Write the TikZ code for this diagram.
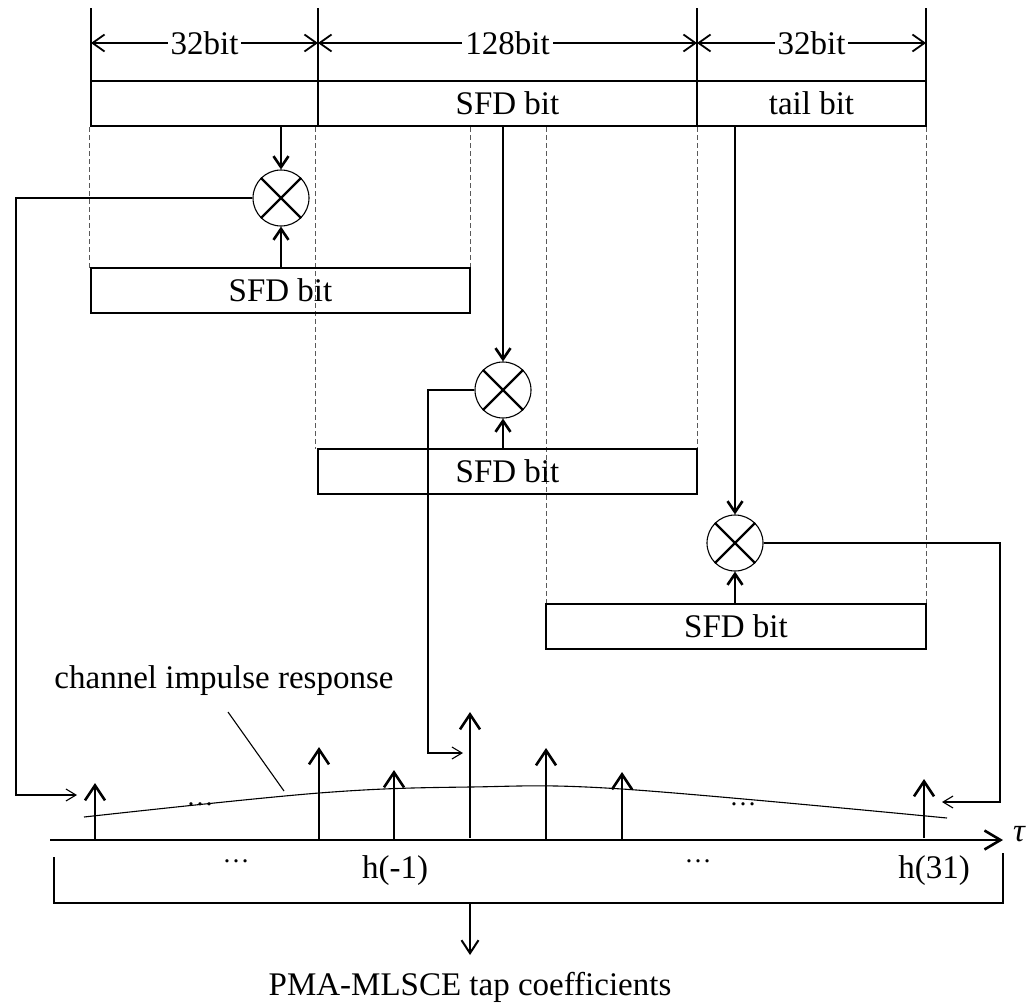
\documentclass[tikz,border=0pt]{standalone}
\usepackage{fontspec}
\setmainfont{Liberation Serif}
\usetikzlibrary{arrows.meta}
\begin{document}
\begin{tikzpicture}[x=1pt,y=-1pt,
  txt/.style={font=\fontsize{33}{38}\selectfont, inner sep=0pt},
  dotsst/.style={font=\fontsize{27}{30}\selectfont, inner sep=0pt, anchor=base},
  bitbox/.style={draw, line width=2.6pt, minimum height=45pt, inner sep=0pt, font=\fontsize{33}{38}\selectfont},
  mult/.style={draw, circle, line width=1.1pt, minimum size=56pt, inner sep=0pt},
  crossline/.style={line width=2.4pt},
  thickline/.style={line width=2.6pt},
  thinline/.style={line width=1.1pt},
  dashline/.style={line width=1pt, gray!70!black, dash pattern=on 5pt off 3pt},
  dimarrow/.style={line width=1.8pt, {Straight Barb[length=12pt,width=17pt]}-{Straight Barb[length=12pt,width=17pt]}},
  stemarrow/.style={line width=2.6pt, -{Straight Barb[length=11pt,width=15pt]}},
  taparrow/.style={line width=2.6pt, -{Straight Barb[length=15pt,width=20pt]}},
  axisarrow/.style={line width=2.6pt, -{Straight Barb[length=16pt,width=19pt]}},
  conn/.style={line width=1.1pt, -{Straight Barb[length=10pt,width=12pt]}},
  downarrow/.style={line width=2pt, -{Straight Barb[length=13pt,width=17pt]}}
]
\useasboundingbox (0,0) rectangle (1032,1004);

% top dimension ticks
\draw[thickline] (91,8) -- (91,81);
\draw[thickline] (318,8) -- (318,81);
\draw[thickline] (697,8) -- (697,81);
\draw[thickline] (926,8) -- (926,81);
\draw[dimarrow] (91,43) -- (318,43) node[midway, txt, fill=white, inner xsep=3pt] (d1) {32bit};
\draw[dimarrow] (318,43) -- (697,43) node[midway, txt, fill=white, inner xsep=3pt] (d2) {128bit};
\draw[dimarrow] (697,43) -- (926,43) node[midway, txt, fill=white, inner xsep=3pt] (d3) {32bit};

% top bar
\node[bitbox, minimum width=227pt] (bA) at (204.5,103.5) {};
\node[bitbox, minimum width=379pt] (bB) at (507.5,103.5) {SFD bit};
\node[bitbox, minimum width=229pt] (bC) at (811.5,103.5) {tail bit};

% dashed guides
\draw[dashline] (89,127) -- (89,268);
\draw[dashline] (315,127) -- (315,449);
\draw[dashline] (470,127) -- (470,268);
\draw[dashline] (546,127) -- (546,604);
\draw[dashline] (697,127) -- (697,449);
\draw[dashline] (926,127) -- (926,604);

% SFD boxes
\node[bitbox, minimum width=379pt] (s1) at (280.5,290.5) {SFD bit};
\node[bitbox, minimum width=379pt] (s2) at (507.5,471.5) {SFD bit};
\node[bitbox, minimum width=380pt] (s3) at (736,626.5) {SFD bit};

% multipliers
\node[mult] (m1) at (281,198) {};
\node[mult] (m2) at (503,390) {};
\node[mult] (m3) at (735,543) {};
\foreach \m in {m1,m2,m3}{
  \draw[crossline] (\m.north west) -- (\m.south east) (\m.north east) -- (\m.south west);
}
\draw[stemarrow] (m1 |- bA.south) -- (m1.north);
\draw[stemarrow] (m1 |- s1.north) -- (m1.south);
\draw[stemarrow] (m2 |- bB.south) -- (m2.north);
\draw[stemarrow] (m2 |- s2.north) -- (m2.south);
\draw[stemarrow] (m3 |- bC.south) -- (m3.north);
\draw[stemarrow] (m3 |- s3.north) -- (m3.south);

% feedback connectors
\coordinate (in1) at (77,795);
\coordinate (in2) at (463,753);
\coordinate (in3) at (942,802);
\draw[conn] (m1.west) -| (16,795) -- (in1);
\draw[conn] (m2.west) -| (428,753) -- (in2);
\draw[conn] (m3.east) -| (1000,802) -- (in3);

% axis and taps
\draw[axisarrow] (50,840) -- (1003,840);
\draw[taparrow] (95,840) -- (95,783);
\draw[taparrow] (319,840) -- (319,747);
\draw[taparrow] (394,840) -- (394,770);
\draw[taparrow] (470,838) -- (470,712);
\draw[taparrow] (546,840) -- (546,748);
\draw[taparrow] (622,840) -- (622,772);
\draw[taparrow] (924,838) -- (924,779);

% channel impulse response curve
\draw[thinline] plot[smooth, tension=0.6] coordinates {(84,817) (319,793) (470,787) (622,789) (947,818)};
\node[txt, anchor=base] (cir) at (224,688) {channel impulse response};
\coordinate (lead) at (284,791);
\draw[thinline] (228,712) -- (lead);

% dots and labels
\node[dotsst] (e1) at (200,805) {…};
\node[dotsst] (e2) at (743,805) {…};
\node[dotsst] (e3) at (236,862) {…};
\node[dotsst] (e4) at (698,862) {…};
\node[txt, anchor=base] (hm1) at (395,878) {h(-1)};
\node[txt, anchor=base] (h31) at (934,878) {h(31)};
\node[txt, anchor=north west] (tau) at (1013,826) {\itshape τ};

% bottom bracket
\coordinate (bl) at (54,857);
\coordinate (br) at (1003,853);
\draw[thickline] (bl) -- (54,903) -- (1003,903) -- (br);
\coordinate (bm) at (470,903);
\node[txt, anchor=base] (out) at (470,995) {PMA-MLSCE tap coefficients};
\draw[downarrow] (bm) -- (470,955);
\end{tikzpicture}
\end{document}
